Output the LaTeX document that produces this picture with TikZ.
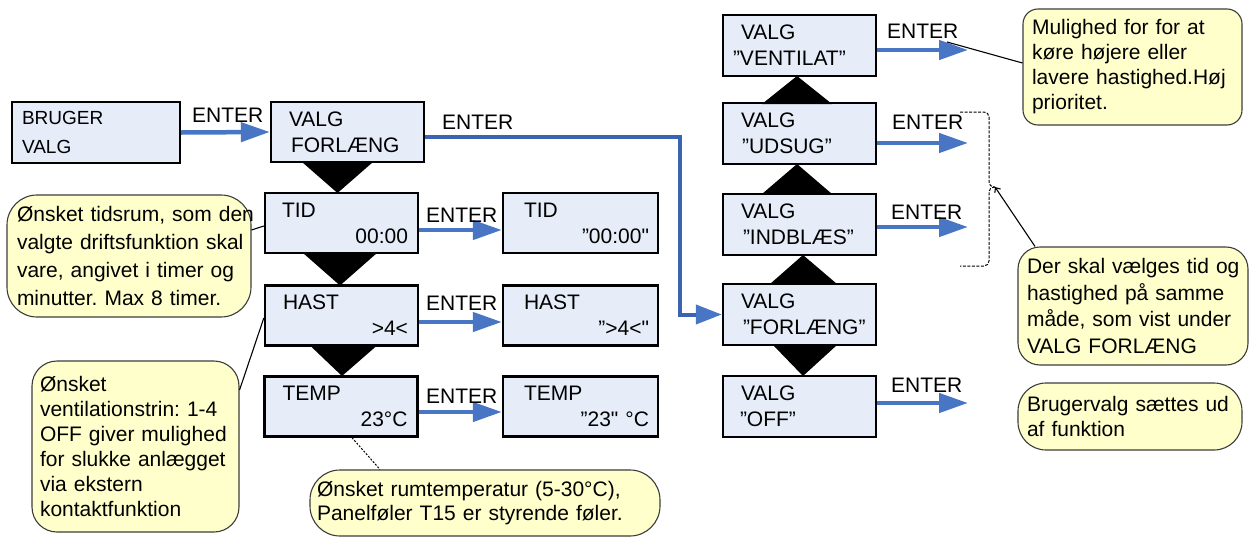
\documentclass[tikz,border=0pt]{standalone}
\usepackage{fontspec}
\setmainfont{Liberation Sans}
\usetikzlibrary{arrows.meta,calc}
\definecolor{boxfill}{RGB}{230,237,248}
\definecolor{callfill}{RGB}{255,255,204}
\definecolor{arrblue}{RGB}{72,118,196}
\definecolor{lineblue}{RGB}{58,100,178}
\definecolor{callline}{RGB}{60,60,60}
\newcommand{\Ln}[1]{\mbox{#1}}
\newcommand{\Rt}[1]{\makebox[\hsize][r]{#1}}
\frenchspacing
\begin{document}
\begin{tikzpicture}[x=1pt,y=-1pt,
 box/.style={draw=black,line width=2.4pt,fill=boxfill,inner xsep=9pt,inner ysep=0pt,align=left,
   font=\fontsize{21}{26}\selectfont,text width=135pt,minimum width=153pt,minimum height=60pt},
 callout/.style={draw=callline,line width=1.1pt,fill=callfill,inner xsep=9pt,inner ysep=0pt,align=left},
 arr/.style={draw=arrblue,line width=4.5pt,-{Triangle[length=29pt,width=19pt]}},
 longarr/.style={draw=lineblue,line width=4pt,-{Triangle[length=26pt,width=19pt,color=arrblue]}},
 lbl/.style={font=\fontsize{21}{26}\selectfont,anchor=base west,inner sep=0pt},
 note/.style={draw=black,line width=1.1pt},
]
\useasboundingbox (0,0) rectangle (1254,536);
\fill[white] (0,0) rectangle (1254,536);

% boxes
\node[box,text width=150pt,minimum width=168pt,minimum height=61pt,font=\fontsize{19}{29}\selectfont] (bruger) at (96,132.5) {\hspace*{1pt}BRUGER\\\hspace*{1pt}VALG};
\node[box] (valgf) at (347.5,132) {\hspace*{9pt}VALG\\\hspace*{11pt}FORLÆNG};
\node[box] (tid) at (341.5,223) {\hspace*{8pt}TID\\\Rt{00:00\hspace*{1pt}}};
\node[box] (hast) at (341.5,315.5) {\hspace*{9pt}HAST\\\Rt{>4<\hspace*{1pt}}};
\node[box] (temp) at (341,406.5) {\hspace*{9pt}TEMP\\\Rt{23°C\hspace*{1pt}}};

\node[box,text width=137pt,minimum width=155pt] (tid2) at (580.5,223) {\hspace*{12pt}TID\\\Rt{”00:00\textquotedbl}};
\node[box,text width=137pt,minimum width=155pt] (hast2) at (580.5,315.5) {\hspace*{12pt}HAST\\\Rt{”>4<\textquotedbl}};
\node[box,text width=137pt,minimum width=155pt] (temp2) at (580.5,406.5) {\hspace*{12pt}TEMP\\\Rt{”23\textquotedbl{} °C}};

\node[box,minimum height=61pt] (vent) at (799.5,45.5) {\hspace*{9pt}VALG\\\mbox{\hspace*{1pt}”VENTILAT”}};
\node[box,minimum height=61pt] (udsug) at (799.5,133.5) {\hspace*{9pt}VALG\\\mbox{\hspace*{10pt}”UDSUG”}};
\node[box,minimum height=61pt] (indbl) at (799.5,224.5) {\hspace*{9pt}VALG\\\mbox{\hspace*{11pt}”INDBLÆS”}};
\node[box,minimum height=61pt] (forl) at (799.5,314.5) {\hspace*{9pt}VALG\\\mbox{\hspace*{11pt}”FORLÆNG”}};
\node[box,minimum height=61pt] (off) at (799.5,406.5) {\hspace*{9pt}VALG\\\mbox{\hspace*{8pt}”OFF”}};

% triangles
\fill (302,162) -- (373,162) -- (337.5,193) -- cycle;
\fill (303,253) -- (377,253) -- (340,285.5) -- cycle;
\fill (310,345.5) -- (377,345.5) -- (342,376) -- cycle;
\fill (762,104) -- (832,104) -- (797,76) -- cycle;
\fill (762,194) -- (832,194) -- (797,164) -- cycle;
\fill (770,284) -- (837,284) -- (803,255) -- cycle;
\fill (773,345) -- (837,345) -- (803,376) -- cycle;

% arrows
\draw[arr] (bruger.east) -- (valgf.west);
\draw[arr] ([yshift=-7pt]tid.east) -- ([yshift=-7pt]tid2.west);
\draw[arr] ([yshift=-6.5pt]hast.east) -- ([yshift=-6.5pt]hast2.west);
\draw[arr] ([yshift=-5.5pt]temp.east) -- ([yshift=-5.5pt]temp2.west);
\draw[longarr] ([yshift=-5pt]valgf.east) -| ($(forl.west)+(-42,0)$) -- (forl.west);

\coordinate (ve) at (968,50);
\coordinate (ue) at (968,143);
\coordinate (ie) at (968,227);
\coordinate (oe) at (968,403);
\draw[arr] (vent.east |- ve) -- (ve);
\draw[arr] (udsug.east |- ue) -- (ue);
\draw[arr] (indbl.east |- ie) -- (ie);
\draw[arr] (off.east |- oe) -- (oe);

% ENTER labels
\node[lbl] (e1) at (192,122.5) {ENTER};
\node[lbl] (e2) at (442,129) {ENTER};
\node[lbl] (e3) at (426,222) {ENTER};
\node[lbl] (e4) at (426,310) {ENTER};
\node[lbl] (e5) at (426,403) {ENTER};
\node[lbl] (e6) at (887,38) {ENTER};
\node[lbl] (e7) at (892,129) {ENTER};
\node[lbl] (e8) at (891,219) {ENTER};
\node[lbl] (e9) at (891,392) {ENTER};

% callouts
\node[callout,text width=201pt,minimum width=219pt,minimum height=116pt,rounded corners=15pt,font=\fontsize{21}{25}\selectfont] (c1) at (1132.5,67)
 {\Ln{Mulighed for for at}\\\Ln{køre højere eller}\\\Ln{lavere hastighed.Høj}\\\Ln{prioritet.}};
\node[callout,text width=212pt,minimum width=230pt,minimum height=118pt,rounded corners=22pt,font=\fontsize{21}{26.5}\selectfont] (c2) at (1133,306)
 {\Ln{Der skal vælges tid og}\\\Ln{hastighed på samme}\\\Ln{måde, som vist under}\\\Ln{VALG FORLÆNG}};
\node[callout,text width=206pt,minimum width=224pt,minimum height=67pt,rounded corners=28pt,font=\fontsize{21}{24.5}\selectfont] (c3) at (1130,416.5)
 {\Ln{Brugervalg sættes ud}\\\Ln{af funktion}};
\node[callout,inner xsep=10pt,text width=224pt,minimum width=244pt,minimum height=122pt,rounded corners=30pt,font=\fontsize{21}{28}\selectfont] (c4) at (129,256)
 {\Ln{Ønsket tidsrum, som den}\\\Ln{valgte driftsfunktion skal}\\\Ln{vare, angivet i timer og}\\\Ln{minutter. Max 8 timer.}};
\node[callout,inner xsep=8pt,text width=191pt,minimum width=207pt,minimum height=171pt,rounded corners=25pt,font=\fontsize{21}{25}\selectfont] (c5) at (135.5,446.5)
 {\Ln{Ønsket}\\\Ln{ventilationstrin: 1-4}\\\Ln{OFF giver mulighed}\\\Ln{for slukke anlægget}\\\Ln{via ekstern}\\\Ln{kontaktfunktion}};
\node[callout,inner xsep=7pt,text width=336pt,minimum width=350pt,minimum height=66pt,rounded corners=30pt,font=\fontsize{21}{24}\selectfont] (c6) at (485,503)
 {\Ln{Ønsket rumtemperatur (5-30°C),}\\\Ln{Panelføler T15 er styrende føler.}};

% callout connectors
\coordinate (vtip) at (947,42);
\draw[note] (vtip) -- ([yshift=4pt]c1.west);
\draw[note] ([yshift=26pt]c4.east) -- ([yshift=-3pt]tid.west);
\draw[note] ([yshift=56.5pt]c5.east) -- ([yshift=-2.5pt]hast.west);
\draw[note,line width=1pt,dash pattern=on 2pt off 1.5pt] ([xshift=11pt]temp.south) -- ([xshift=-105pt]c6.north);

% brace
\coordinate (btip) at (995,187);
\draw[line width=1pt,dash pattern=on 3pt off 1.5pt,rounded corners=5pt] (960,112) -- (989,112) -- (989,187) -- (btip);
\draw[line width=1pt,dash pattern=on 3pt off 1.5pt,rounded corners=5pt] (btip) -- (989,187) -- (989,266) -- (960,266);
\draw[note,-{Straight Barb[length=4pt,width=7pt]}] ([xshift=-98pt]c2.north) -- (btip);
\end{tikzpicture}
\end{document}
